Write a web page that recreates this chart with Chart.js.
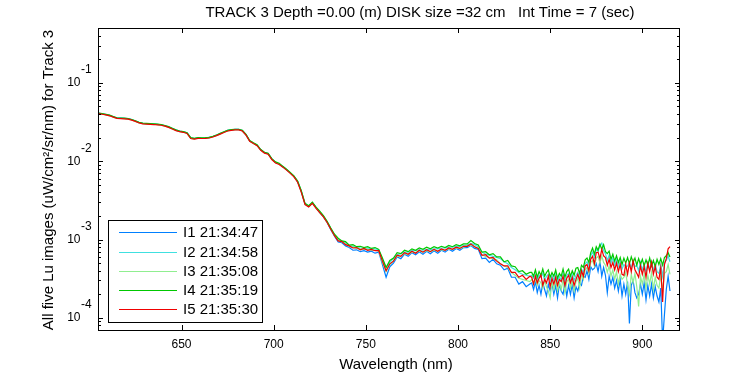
<!DOCTYPE html>
<html>
<head>
<meta charset="utf-8">
<script src="https://cdn.jsdelivr.net/npm/chart.js@4/dist/chart.umd.min.js"></script>
<style>
  body { margin: 0; background: #fff; }
  canvas { display: block; }
</style>
</head>
<body>
<canvas id="luChart" width="750" height="375"></canvas>
<script>
// wavelength (nm): 2 nm steps on the smooth part, 1 nm on the noisy tail
const wavelengths = [
  605,607,609,611,613,615,617,619,621,623,625,627,629,631,633,635,637,639,641,643,
  645,647,649,651,653,655,657,659,661,663,665,667,669,671,673,675,677,679,681,683,
  685,687,689,691,693,695,697,699,701,703,705,707,709,711,713,715,717,719,721,723,
  725,727,729,731,733,735,737,739,741,743,745,747,749,751,753,755,757,759,761,763,
  765,767,769,771,773,775,777,779,781,783,785,787,789,791,793,795,797,799,801,803,
  805,807,809,811,813,815,817,819,821,823,825,827,829,831,833,835,837,839,
  840,841,842,843,844,845,846,847,848,849,850,851,852,853,854,855,856,857,858,859,
  860,861,862,863,864,865,866,867,868,869,870,871,872,873,874,875,876,877,878,879,
  880,881,882,883,884,885,886,887,888,889,890,891,892,893,894,895,896,897,898,899,
  900,901,902,903,904,905,906,907,908,909,910,911,912,913,914,915
];

// Lu values in units of 1e-4 uW/cm2/sr/nm
const i1 = [
  410,402,394,385,370,356,354,352,349,339,326,312,304,302,300,298,295,292,284,274,
  262,250,242,238,230,198,195,199,198,199,201,207,215,226,236,247,252,255,255,246,
  218,182,170,160,140,129,125,107,96,92,85,78,71,64,55,41,28.5,26.5,29.5,25.5,
  22,19.5,16.5,13.3,11.0,9.3,9.1,8.3,7.9,7.3,7.4,7.0,7.2,6.9,7.1,6.7,6.9,4.8,3.3,4.5,
  5.0,6.0,5.7,6.5,6.1,6.8,6.4,7.0,6.5,7.1,6.6,7.2,6.7,7.3,6.9,7.5,7.1,7.7,7.3,7.9,
  7.9,8.4,7.7,7.5,5.7,5.8,5.1,5.6,4.9,4.7,4.1,4.3,3.3,3.3,2.7,2.9,2.5,2.7,
  2.8,2.3,2.9,2.1,2.6,2.0,2.8,2.3,1.9,2.7,2.2,2.8,2.0,2.6,1.8,2.7,2.2,2.0,2.8,1.9,
  2.6,2.0,2.7,1.8,2.5,2.2,2.8,2.6,3.4,3.3,4.0,3.1,4.5,4.1,4.3,4.9,3.9,5.3,3.4,4.4,
  3.5,2.1,3.4,2.7,3.3,2.4,3.0,2.2,3.1,1.9,2.7,2.0,2.9,0.85,2.6,3.0,2.1,1.8,2.0,2.7,
  2.0,2.8,1.7,2.6,1.9,2.7,1.8,2.5,1.9,1.6,2.4,0.5,1.1,2.3,3.4,2.2
];
const i2 = [
  409,401,393,384,369,355,353,351,348,338,325,311,303,301,299,297,294,291,283,273,
  261,249,241,237,229,197,194,198,197,198,200,206,214,224,235,245,250,253,253,245,
  217,182,170,160,140,128,124,106,96,92,85,78,71,64,55,41,28.5,26.5,29.5,25.5,
  22.5,19.8,16.8,13.8,11.5,10.0,9.5,9.1,8.4,8.2,7.9,7.8,7.7,7.8,7.6,7.6,7.4,5.6,4.4,5.1,
  5.7,6.4,6.6,6.9,6.9,7.2,7.2,7.4,7.3,7.5,7.4,7.6,7.6,7.8,7.8,8.0,8.0,8.2,8.2,8.4,
  8.5,8.9,8.6,8.1,6.9,6.5,6.3,6.1,5.9,5.7,5.2,4.9,4.4,4.1,3.8,3.6,3.5,3.4,
  3.5,3.2,3.6,3.0,3.5,3.3,3.7,3.0,3.4,3.6,2.9,3.5,3.0,3.6,2.9,3.4,3.0,3.7,2.9,3.5,
  3.7,3.0,3.6,3.0,3.5,3.8,3.2,4.2,3.8,4.9,5.2,4.6,6.2,6.9,5.9,7.5,7.1,8.4,9.0,7.2,
  6.6,5.4,6.3,5.0,5.8,4.7,5.5,4.5,5.3,4.2,4.8,4.5,4.6,5.1,4.3,5.4,4.5,4.7,4.0,5.1,
  4.1,4.9,3.8,5.1,4.2,5.2,4.0,4.9,3.9,3.7,4.8,3.4,5.1,5.4,6.2,5.2
];
const i3 = [
  406,399,391,381,366,353,351,349,346,336,323,309,301,299,297,295,292,289,281,271,
  259,247,239,235,227,196,193,197,196,197,199,205,213,223,234,244,249,252,252,244,
  216,181,169,159,139,128,124,106,96,92,85,78,71,64,55,41,28.5,26.5,29.5,25.5,
  22,19.6,16.6,13.6,11.3,9.8,9.3,8.9,8.1,8.0,7.7,7.6,7.5,7.5,7.3,7.3,7.1,5.1,3.9,4.8,
  5.3,6.1,6.2,6.6,6.5,6.9,6.8,7.1,6.9,7.2,7.0,7.3,7.1,7.4,7.3,7.6,7.5,7.8,7.7,8.0,
  8.2,8.5,8.1,7.7,6.4,6.1,5.9,5.7,5.5,4.9,4.6,4.4,3.8,3.5,3.2,3.1,3.0,2.9,
  3.1,2.7,3.1,2.6,3.0,2.8,2.4,3.0,2.5,2.2,1.8,2.9,2.3,3.0,2.2,2.8,2.3,3.1,2.1,2.9,
  3.1,2.4,3.0,2.2,2.9,3.2,2.4,3.6,3.1,4.1,4.4,3.7,5.1,5.4,4.6,5.8,6.1,5.0,6.2,5.1,
  4.7,3.8,4.6,3.4,4.1,3.1,3.9,2.7,3.6,3.1,3.3,3.8,2.6,2.0,3.6,2.8,3.7,2.5,1.4,3.4,
  2.7,3.6,2.4,3.5,2.7,3.8,2.3,3.3,2.6,2.4,3.5,2.2,3.7,3.9,4.8,3.6
];
const i4 = [
  412,405,396,387,372,358,356,354,351,341,328,314,306,304,302,300,297,294,286,276,
  263,251,243,239,231,200,196,200,199,200,202,208,216,227,238,248,253,256,256,248,
  220,184,172,162,141,130,126,108,98,94,86,79,72,65,56,42,29,27,30,26,
  23,20.2,17.1,14.0,11.7,10.4,9.6,9.4,8.5,8.6,8.1,8.2,7.9,8.1,7.7,7.9,7.5,5.8,4.4,5.4,
  5.8,6.8,6.6,7.3,7.0,7.6,7.3,7.8,7.5,8.0,7.6,8.1,7.8,8.2,7.9,8.4,8.1,8.6,8.3,8.8,
  8.8,9.7,8.9,8.5,6.9,7.0,6.4,6.6,6.0,6.0,5.2,5.4,4.6,4.5,3.9,4.0,3.6,3.8,
  3.8,3.4,4.1,3.3,3.9,3.5,4.2,3.4,3.8,4.1,3.3,3.8,3.4,4.1,3.2,3.7,3.4,4.2,3.3,3.9,
  4.2,3.4,4.0,3.5,4.3,4.4,3.7,4.7,4.4,5.5,5.8,5.1,6.8,7.8,6.5,8.1,7.3,8.7,7.5,8.6,
  7.0,6.6,7.1,5.6,6.5,5.3,6.2,5.1,5.9,4.8,5.8,5.0,5.9,4.9,6.0,5.1,5.8,4.7,5.7,4.8,
  5.6,4.6,5.5,4.7,5.8,4.6,5.4,4.5,5.6,4.8,5.7,4.7,5.9,6.2,6.8,6.0
];
const i5 = [
  405,398,390,380,365,352,350,348,345,335,322,308,300,298,296,294,291,288,280,270,
  258,246,238,234,226,195,192,196,195,196,198,204,212,222,233,243,248,251,251,243,
  215,180,168,158,138,127,123,105,95,91,84,77,70,63,54,40,28,26,29,25,
  22,19.5,16.5,13.5,11.2,9.6,9.4,8.6,8.3,7.8,7.9,7.4,7.7,7.3,7.5,7.2,7.2,5.3,4.0,4.9,
  5.3,6.3,6.1,6.8,6.5,7.1,6.7,7.3,6.9,7.4,7.0,7.5,7.1,7.6,7.3,7.8,7.5,8.0,7.7,8.2,
  8.2,8.8,8.1,7.7,6.3,6.4,5.8,5.9,5.3,4.9,4.6,4.6,3.8,3.8,3.3,3.5,3.1,3.4,
  3.3,2.7,3.4,2.8,3.2,3.5,2.6,3.1,2.8,3.4,2.5,3.2,2.7,3.3,2.6,3.1,2.9,3.4,2.6,3.2,
  3.5,2.8,3.3,2.6,3.1,3.6,3.0,4.0,3.4,4.6,4.8,4.0,5.6,6.1,4.9,6.8,6.9,5.7,7.5,6.2,
  5.9,4.7,5.6,4.4,5.1,4.1,5.0,3.9,4.8,3.6,3.5,4.8,3.6,5.0,3.9,5.3,4.1,3.7,3.3,4.6,
  3.6,4.5,3.3,4.9,3.9,5.1,3.6,4.5,3.3,3.1,4.4,1.6,4.8,5.7,7.6,8.1
];

const seriesLabels = ['I1 21:34:47', 'I2 21:34:58', 'I3 21:35:08', 'I4 21:35:19', 'I5 21:35:30'];
const seriesColors = ['#0080ff', '#40e0e0', '#90ee90', '#00c800', '#f00000'];
const seriesValues = [i1, i2, i3, i4, i5];

const xTicks = [650, 700, 750, 800, 850, 900];
const yDecades = [-4, -3, -2, -1];

const titleText = 'TRACK 3 Depth =0.00 (m) DISK size =32 cm   Int Time = 7 (sec)';
const xTitle = 'Wavelength (nm)';
const yTitle = 'All five Lu images (uW/cm\u00b2/sr/nm) for Track 3';

seriesValues.forEach((s, i) => {
  if (s.length !== wavelengths.length) {
    throw new Error('series ' + (i + 1) + ' has ' + s.length + ' values, expected ' + wavelengths.length);
  }
});

const datasets = seriesValues.map((vals, i) => ({
  label: seriesLabels[i],
  data: vals.map((v, k) => ({ x: wavelengths[k], y: v * 1e-4 })),
  borderColor: seriesColors[i],
  backgroundColor: seriesColors[i],
  borderWidth: 1.2,
  pointRadius: 0,
  tension: 0,
  fill: false,
  order: seriesValues.length - i   // later images drawn on top, like the original plot
}));

const FONT = '"Liberation Sans", Arial, sans-serif';

// box, inward ticks, labels and legend in the old matlab look
const matlabFrame = {
  id: 'matlabFrame',
  afterDraw(chart) {
    const { ctx, chartArea: a, scales: { x, y } } = chart;
    ctx.save();
    ctx.strokeStyle = '#000';
    ctx.fillStyle = '#000';
    ctx.lineWidth = 1;

    ctx.strokeRect(a.left + 0.5, a.top + 0.5, a.right - a.left, a.bottom - a.top);

    ctx.beginPath();
    xTicks.forEach(v => {
      const px = Math.round(x.getPixelForValue(v)) + 0.5;
      ctx.moveTo(px, a.bottom); ctx.lineTo(px, a.bottom - 5);
      ctx.moveTo(px, a.top); ctx.lineTo(px, a.top + 5);
    });
    for (let e = -5; e <= 0; e++) {
      for (let m = 1; m <= 9; m++) {
        const v = m * Math.pow(10, e);
        if (v < y.min || v > y.max) continue;
        const len = m === 1 ? 5 : 3;
        const py = Math.round(y.getPixelForValue(v)) + 0.5;
        ctx.moveTo(a.left, py); ctx.lineTo(a.left + len, py);
        ctx.moveTo(a.right + 1, py); ctx.lineTo(a.right + 1 - len, py);
      }
    }
    ctx.stroke();

    // tick labels
    ctx.font = '12px ' + FONT;
    ctx.textBaseline = 'middle';
    ctx.textAlign = 'center';
    xTicks.forEach(v => ctx.fillText(String(v), x.getPixelForValue(v), 345));
    yDecades.forEach(e => {
      const py = y.getPixelForValue(Math.pow(10, e));
      ctx.textAlign = 'right';
      ctx.fillText('10', 80.5, py);
      ctx.textAlign = 'left';
      ctx.fillText(String(e), 81, py - 13);
    });

    // titles
    ctx.font = '15px ' + FONT;
    ctx.textAlign = 'center';
    ctx.fillText(titleText, 420, 13);
    ctx.fillText(xTitle, 396, 365);
    ctx.save();
    ctx.translate(49, 180);
    ctx.rotate(-Math.PI / 2);
    ctx.fillText(yTitle, 0, 0);
    ctx.restore();

    // legend
    const lx = 108.5, ly = 220.5, lw = 154, lh = 102;
    ctx.fillStyle = '#fff';
    ctx.fillRect(lx, ly, lw, lh);
    ctx.strokeRect(lx, ly, lw, lh);
    ctx.textAlign = 'left';
    seriesLabels.forEach((lab, i) => {
      const ry = Math.round(232.3 + i * 19.25) + 0.5;
      ctx.strokeStyle = seriesColors[i];
      ctx.beginPath();
      ctx.moveTo(119, ry); ctx.lineTo(177, ry);
      ctx.stroke();
      ctx.fillStyle = '#000';
      ctx.fillText(lab, 183, ry);
    });
    ctx.restore();
  }
};

const luChart = new Chart(document.getElementById('luChart'), {
  type: 'line',
  data: { datasets: datasets },
  options: {
    responsive: false,
    animation: false,
    devicePixelRatio: 1,
    layout: { padding: { left: 98, right: 71, top: 28, bottom: 45 } },
    scales: {
      x: { type: 'linear', min: 604.7, max: 919.9, display: false },
      y: { type: 'logarithmic', min: 7.4e-5, max: 0.502, display: false }
    },
    plugins: {
      legend: { display: false },
      tooltip: { enabled: false }
    }
  },
  plugins: [matlabFrame]
});
</script>
</body>
</html>
